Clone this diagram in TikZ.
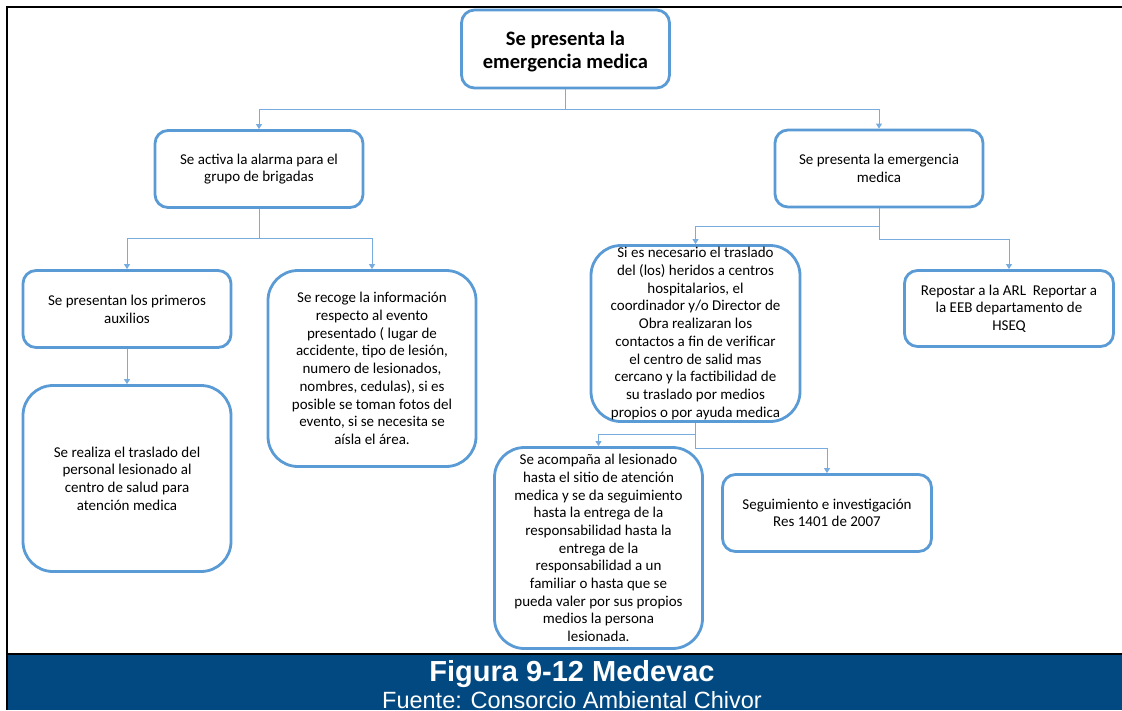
\documentclass[tikz,border=0pt]{standalone}
\usepackage{fontspec}
\setmainfont{Carlito}
\newfontfamily\capfont{Liberation Sans}
\usetikzlibrary{arrows.meta}
\definecolor{boxblue}{RGB}{91,155,213}
\definecolor{connblue}{RGB}{120,172,222}
\definecolor{bandblue}{RGB}{1,73,128}
\begin{document}
\begin{tikzpicture}[x=1pt,y=-1pt,
  box/.style={draw=boxblue, line width=2.8pt, fill=white, align=center, inner sep=0pt,
    font=\fontsize{15}{17.7}\selectfont, text=black},
  smallbox/.style={rounded corners=13pt},
  tallbox/.style={rounded corners=30pt},
  conn/.style={draw=connblue, line width=1pt, -{Triangle[width=6pt,length=5pt]}},
  captext/.style={text=white, inner sep=0pt, anchor=base}]
\useasboundingbox (0,0) rectangle (1122,710);
% frame and caption band
\fill[bandblue] (8,654) rectangle (1122,710);
\draw[line width=2.5pt] (1122,7) -- (7,7) -- (7,710);
\draw[line width=2pt] (7,653.5) -- (1122,653.5);
\node[captext, font=\capfont\bfseries\fontsize{29}{34}\selectfont] (cap1) at (572,681) {Figura 9-12 Medevac};
\node[captext, font=\capfont\fontsize{23.5}{28}\selectfont] (cap2) at (572,708.5) {Fuente: Consorcio Ambiental Chivor};
% boxes
\node[box, smallbox, minimum width=208pt, minimum height=78pt] (top) at (565.5,49) {};
\node[align=center, inner sep=0pt, font=\bfseries\fontsize{20.5}{23}\selectfont] (toptext) at (565.5,52) {Se presenta la\\emergencia medica};
\node[box, smallbox, minimum width=208pt, minimum height=77pt] (A) at (259,169) {Se activa la alarma para el\\grupo de brigadas};
\node[box, smallbox, minimum width=208pt, minimum height=77pt] (B) at (879,168.5) {Se presenta la emergencia\\medica};
\node[box, smallbox, minimum width=208pt, minimum height=77pt] (C) at (127,309) {Se presentan los primeros\\auxilios};
\node[box, tallbox, minimum width=208pt, minimum height=196pt] (D) at (372,368.5) {Se recoge la información\\respecto al evento\\presentado ( lugar de\\accidente, tipo de lesión,\\numero de lesionados,\\nombres, cedulas), si es\\posible se toman fotos del\\evento, si se necesita se\\aísla el área.};
\node[box, tallbox, minimum width=208pt, minimum height=186pt] (E) at (127,478.5) {Se realiza el traslado del\\personal lesionado al\\centro de salud para\\atención medica};
\node[box, tallbox, minimum width=209pt, minimum height=176pt] (F) at (695.5,333.5) {Si es necesario el traslado\\del (los) heridos a centros\\hospitalarios, el\\coordinador y/o Director de\\Obra realizaran los\\contactos a fin de verificar\\el centro de salid mas\\cercano y la factibilidad de\\su traslado por medios\\propios o por ayuda medica};
\node[box, smallbox, minimum width=209pt, minimum height=76pt] (G) at (1009,308.5) {Repostar a la ARL\ \ Reportar a\\la EEB departamento de\\HSEQ};
\node[box, tallbox, minimum width=208pt, minimum height=201pt] (H) at (598.5,548) {Se acompaña al lesionado\\hasta el sitio de atención\\medica y se da seguimiento\\hasta la entrega de la\\responsabilidad hasta la\\entrega de la\\responsabilidad a un\\familiar o hasta que se\\pueda valer por sus propios\\medios la persona\\lesionada.};
\node[box, smallbox, minimum width=209pt, minimum height=77pt] (I) at (827,513) {Seguimiento e investigación\\Res 1401 de 2007};
% junctions
\coordinate (j0) at (565.5,109);
\coordinate (ja) at (259,238);
\coordinate (jb1) at (879,226);
\coordinate (jb2) at (879,239);
\coordinate (jf1) at (695.5,434);
\coordinate (jf2) at (695.5,448);
% connectors
\draw[conn] (top.south) -- (j0) -| (A.north);
\draw[conn] (top.south) -- (j0) -| (B.north);
\draw[conn] (A.south) -- (ja) -| (C.north);
\draw[conn] (A.south) -- (ja) -| (D.north);
\draw[conn] (C.south) -- (E.north);
\draw[conn] (B.south) -- (jb1) -| (F.north);
\draw[conn] (B.south) -- (jb2) -| (G.north);
\draw[conn] (F.south) -- (jf1) -| (H.north);
\draw[conn] (F.south) -- (jf2) -| (I.north);
\end{tikzpicture}
\end{document}
